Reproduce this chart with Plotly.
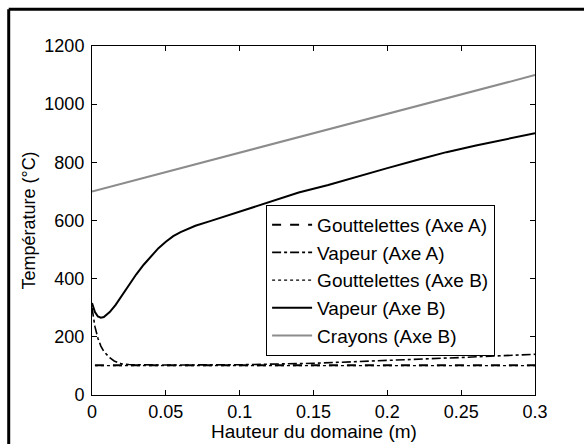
import plotly.graph_objects as go

# ---- data ----
x_gout_a = [0.002, 0.05, 0.1, 0.15, 0.2, 0.25, 0.3]
y_gout_a = [102, 102, 102, 102, 102, 102, 102]

x_vap_a = [0, 0.002, 0.004, 0.006, 0.008, 0.01, 0.012, 0.015, 0.018, 0.02,
           0.025, 0.03, 0.05, 0.1, 0.15, 0.2, 0.25, 0.3]
y_vap_a = [300, 235, 195, 168, 150, 138, 128, 117, 110, 107,
           105, 104, 103, 104, 109, 118, 129, 140]

x_gout_b = [0.002, 0.05, 0.1, 0.15, 0.2, 0.25, 0.3]
y_gout_b = [101, 101, 101, 101, 101, 101, 101]

x_vap_b = [0, 0.002, 0.004, 0.006, 0.008, 0.012, 0.016, 0.02, 0.025, 0.03,
           0.035, 0.04, 0.045, 0.05, 0.055, 0.06, 0.065, 0.07, 0.08, 0.09,
           0.1, 0.12, 0.14, 0.16, 0.18, 0.2, 0.22, 0.24, 0.26, 0.28, 0.3]
y_vap_b = [316, 285, 270, 266, 268, 285, 310, 340, 378, 415,
           448, 478, 505, 527, 546, 560, 572, 582, 598, 614,
           630, 664, 696, 722, 752, 780, 808, 835, 858, 880, 900]

x_cray = [0, 0.05, 0.1, 0.15, 0.2, 0.25, 0.3]
y_cray = [700, 767, 833, 900, 967, 1033, 1100]

x_ticks = [0, 0.05, 0.1, 0.15, 0.2, 0.25, 0.3]
x_ticklabels = ["0", "0.05", "0.1", "0.15", "0.2", "0.25", "0.3"]
y_ticks = [0, 200, 400, 600, 800, 1000, 1200]

x_title = "Hauteur du domaine (m)"
y_title = "Température (°C)"

FONT = "Liberation Sans, Arial, sans-serif"

fig = go.Figure()
fig.add_trace(go.Scatter(x=x_gout_a, y=y_gout_a, mode="lines", name="Gouttelettes (Axe A)",
                         line=dict(color="black", width=2, dash="dash")))
fig.add_trace(go.Scatter(x=x_vap_a, y=y_vap_a, mode="lines", name="Vapeur (Axe A)",
                         line=dict(color="black", width=1.6, dash="dashdot")))
fig.add_trace(go.Scatter(x=x_gout_b, y=y_gout_b, mode="lines", name="Gouttelettes (Axe B)",
                         line=dict(color="black", width=1.2, dash="dot")))
fig.add_trace(go.Scatter(x=x_vap_b, y=y_vap_b, mode="lines", name="Vapeur (Axe B)",
                         line=dict(color="black", width=2)))
fig.add_trace(go.Scatter(x=x_cray, y=y_cray, mode="lines", name="Crayons (Axe B)",
                         line=dict(color="#8c8c8c", width=2)))

axis_common = dict(showgrid=False, zeroline=False, showline=True, linecolor="black",
                   linewidth=1, mirror="ticks", ticks="inside", ticklen=5,
                   tickcolor="black", tickfont=dict(family=FONT, size=18, color="black"))

fig.update_layout(
    width=584, height=444,
    margin=dict(l=92, r=49, t=46, b=49),
    paper_bgcolor="white", plot_bgcolor="white",
    font=dict(family=FONT, color="black"),
    showlegend=True,
    legend=dict(x=0.393, y=0.545, xanchor="left", yanchor="top",
                bgcolor="white", bordercolor="black", borderwidth=1,
                font=dict(family=FONT, size=19, color="black"),
                itemwidth=40, tracegroupgap=0),
    xaxis=dict(range=[0, 0.3], tickvals=x_ticks, ticktext=x_ticklabels, **axis_common),
    yaxis=dict(range=[0, 1200], tickvals=y_ticks, ticklabelstandoff=3,
               title=dict(text=y_title, font=dict(family=FONT, size=18), standoff=4),
               **axis_common),
    annotations=[
        dict(text=x_title, xref="paper", yref="paper", x=0.5, y=-0.104,
             xanchor="center", yanchor="middle", showarrow=False,
             font=dict(family=FONT, size=19, color="black")),
    ],
    shapes=[
        dict(type="line", xref="paper", yref="paper", x0=-0.188, x1=1.12, y0=1.105, y1=1.105,
             line=dict(color="black", width=3)),
        dict(type="line", xref="paper", yref="paper", x0=-0.188, x1=-0.188, y0=1.105, y1=-0.16,
             line=dict(color="black", width=3)),
    ],
)

fig.write_html("out.html", config={"displayModeBar": False},
               post_script="document.body.style.margin='0';document.body.style.overflow='hidden';")
